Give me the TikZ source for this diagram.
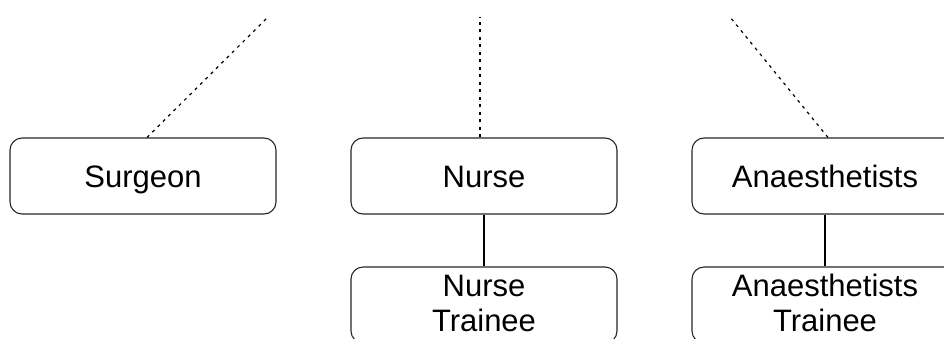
\documentclass[tikz,border=0pt]{standalone}
\usepackage{fontspec}
\setmainfont{Liberation Sans}
\begin{document}
\begin{tikzpicture}[x=1pt,y=-1pt,
  rolebox/.style={draw=black!85, line width=1.1pt, rounded corners=12pt,
    minimum width=266pt, minimum height=76pt, inner sep=0pt, align=center,
    text height=22pt, text depth=0pt,
    font=\fontsize{31}{35}\selectfont},
  twoline/.style={text height=52pt, text depth=0pt},
  dotline/.style={line width=1.2pt, dash pattern=on 3pt off 4.5pt},
  solidline/.style={line width=1.8pt}]
\useasboundingbox (0,0) rectangle (944,338);
\clip (0,0) rectangle (944,338);
\node[rolebox] (s) at (143,176) {Surgeon};
\node[rolebox] (n) at (484,176) {Nurse};
\node[rolebox] (a) at (825,176) {Anaesthetists};
\node[rolebox,twoline] (nt) at (484,305) {Nurse\\Trainee};
\node[rolebox,twoline] (at) at (825,305) {Anaesthetists\\Trainee};
\coordinate (sTop) at (268,17);
\coordinate (nTop) at (480,17);
\coordinate (aTop) at (730,17);
\draw[dotline] ([xshift=4pt]s.north) -- (sTop);
\draw[dotline] ([xshift=-4pt]n.north) -- (nTop);
\draw[dotline] ([xshift=3pt]a.north) -- (aTop);
\draw[solidline] (n.south) -- (nt.north);
\draw[solidline] (a.south) -- (at.north);
\end{tikzpicture}
\end{document}
